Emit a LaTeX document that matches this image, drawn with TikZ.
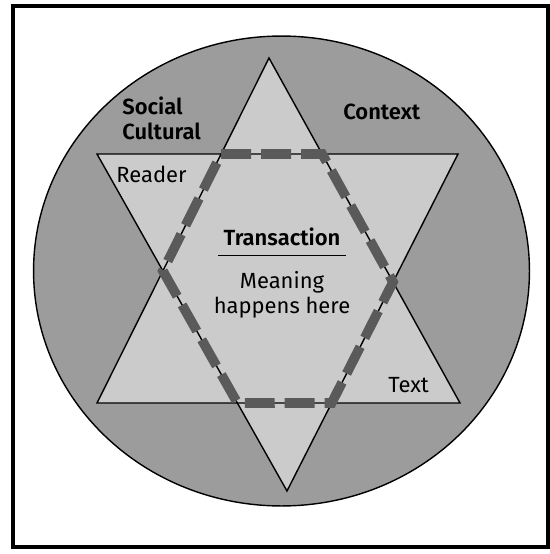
\documentclass[tikz,border=0pt]{standalone}
\usepackage{fontspec}
\setmainfont{Fira Sans}[BoldFont={Fira Sans SemiBold}]
\usetikzlibrary{positioning}
\definecolor{ctxgray}{HTML}{9C9C9C}
\definecolor{stargray}{HTML}{CBCBCB}
\definecolor{dashgray}{HTML}{5A5A5A}

\begin{document}
\begin{tikzpicture}[x=0.02cm, y=-0.02cm,
  lbl/.style={font=\fontsize{12.5}{14.2}\selectfont, inner sep=0pt},
  boldlbl/.style={lbl, font=\fontsize{12.5}{14.2}\selectfont\bfseries},
  edge/.style={draw=black, line width=0.8pt},
  transline/.style={dashgray, line width=5.5pt,
    dash pattern=on 0.6cm off 0.2cm}
]
  \useasboundingbox (0,0) rectangle (550,554);

  % Frame
  \draw[line width=2.4pt] (13,6) rectangle (548,547);

  % Context circle
  \draw[edge, fill=ctxgray] (281.5,271) ellipse [x radius=4.96cm, y radius=4.7cm];

  % Star
  \coordinate (ut) at (269,58);
  \coordinate (ul) at (97,403);
  \coordinate (ur) at (460,403);
  \coordinate (dl) at (97,154);
  \coordinate (dr) at (458,154);
  \coordinate (db) at (287,491);
  \fill[stargray] (ut) -- (ul) -- (ur) -- cycle;
  \fill[stargray] (dl) -- (dr) -- (db) -- cycle;
  \draw[edge] (ut) -- (ul) -- (ur) -- cycle;
  \draw[edge] (dl) -- (dr) -- (db) -- cycle;

  % Transaction hexagon
  \coordinate (h1) at (intersection of ut--ul and dl--dr);
  \coordinate (h2) at (intersection of ut--ur and dl--dr);
  \coordinate (h3) at (intersection of ut--ur and dr--db);
  \coordinate (h4) at (intersection of ul--ur and dr--db);
  \coordinate (h5) at (intersection of ul--ur and dl--db);
  \coordinate (h6) at (intersection of ut--ul and dl--db);
  \draw[transline] (h1) -- (h2) -- (h3) -- (h4) -- (h5) -- (h6) -- cycle;

  % Labels
  \node[boldlbl, align=left, anchor=north west] (social) at (122,97)
    {Social\\Cultural};
  \node[boldlbl, anchor=north west] (context) at (343,104) {Context};
  \node[lbl, anchor=north west] (reader) at (116,166) {Reader};
  \node[lbl, anchor=north west] (text) at (388,377) {Text};
  \node[boldlbl] (trans) at (282,237) {Transaction};
  \node[lbl, align=center, below=0.5cm of trans] (meaning)
    {Meaning\\happens here};
  \draw[line width=0.5pt] (218,255) -- (346,255);
\end{tikzpicture}
\end{document}
